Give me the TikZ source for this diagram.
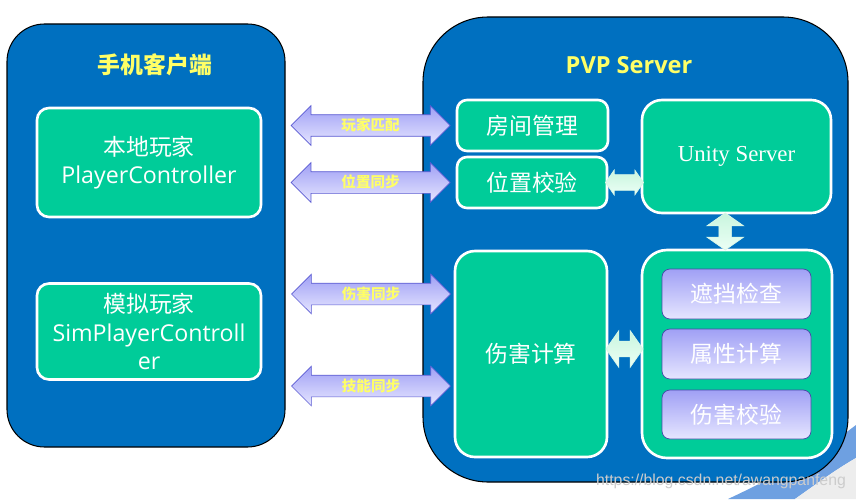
\documentclass[tikz,border=0pt]{standalone}
\usepackage{fontspec}
\setmainfont{Open Sans}
\newfontfamily\cjk{Noto Sans CJK SC}
\newfontfamily\serverfont{Liberation Serif}
\newfontfamily\markfont{Liberation Sans}
\usetikzlibrary{shapes.arrows,shadings,calc}
\definecolor{panelblue}{RGB}{0,112,192}
\definecolor{boxgreen}{RGB}{0,204,153}
\definecolor{titleyellow}{RGB}{255,255,102}
\definecolor{arrowedge}{RGB}{90,90,210}
\definecolor{arrowtop}{RGB}{160,160,245}
\definecolor{arrowbot}{RGB}{230,230,255}
\definecolor{minttop}{RGB}{200,245,222}
\definecolor{mintbot}{RGB}{236,255,245}
\definecolor{swoosh}{RGB}{110,160,225}
\tikzset{
  panel/.style={draw=black, fill=panelblue, line width=0.6pt},
  paneltitle/.style={text=titleyellow, font=\cjk\bfseries\fontsize{13}{16}\selectfont},
  greenbox/.style={draw=white, fill=boxgreen, line width=1.5pt, rounded corners=0.24cm,
    text=white, align=center, font=\cjk\fontsize{13}{16}\selectfont},
  violetbox/.style={draw=arrowedge!80!black, top color=arrowtop, bottom color=arrowbot,
    rounded corners=0.16cm, minimum width=2.98cm, minimum height=1cm,
    text=white, font=\cjk\fontsize{13}{16}\selectfont},
  bluearrow/.style={double arrow, draw=arrowedge, top color=arrowtop, bottom color=arrowbot,
    double arrow tip angle=90, double arrow head extend=0.18cm,
    minimum height=3.18cm, text height=0.26cm, text depth=0.05cm, inner ysep=0.055cm, inner xsep=0pt,
    text=titleyellow, font=\cjk\bfseries\fontsize{8.3}{10}\selectfont},
  mintarrow/.style={double arrow, draw=minttop!70!white, top color=minttop, bottom color=mintbot,
    double arrow tip angle=110, inner xsep=0pt, text height=0pt, text depth=0pt}
}

\begin{document}
\begin{tikzpicture}
    \useasboundingbox (0,0) rectangle (17.12,9.98);

    \fill [swoosh] (14.56,0) .. controls (15.80,0.58) and (16.60,1.08) .. (17.12,1.48)
      -- (17.12,0.82) .. controls (16.70,0.58) and (16.30,0.28) .. (15.90,0) -- cycle;
    \fill [black!7] (15.90,0) .. controls (16.30,0.28) and (16.70,0.58) .. (17.12,0.82)
      -- (17.12,0) -- cycle;

    \node [panel, rounded corners=0.75cm, minimum width=5.56cm, minimum height=8.46cm] (clientPanel) at (2.92,5.27) {};
    \node [panel, rounded corners=1.3cm, minimum width=8.50cm, minimum height=9.30cm] (serverPanel) at (12.71,4.99) {};

    \node [paneltitle] (clientTitle) at (3.10,8.68) {手机客户端};
    \node [paneltitle, font=\bfseries\fontsize{13.4}{16}\selectfont] (serverTitle) at (12.58,8.68) {PVP Server};

    \node [greenbox, minimum width=4.48cm, minimum height=2.18cm] (localPlayer) at (2.98,6.73)
      {本地玩家\\\normalfont\fontsize{13.2}{16}\selectfont PlayerController};
    \node [greenbox, minimum width=4.48cm, minimum height=1.92cm] (simPlayer) at (2.98,3.35)
      {模拟玩家\\\normalfont\fontsize{13.2}{15}\selectfont SimPlayerControll\\\normalfont\fontsize{13.2}{15}\selectfont er};

    \node [greenbox, rounded corners=0.2cm, minimum width=3.02cm, minimum height=1.02cm] (room) at (10.65,7.47) {房间管理};
    \node [greenbox, rounded corners=0.2cm, minimum width=3.00cm, minimum height=1.02cm] (posCheck) at (10.64,6.33) {位置校验};
    \node [greenbox, rounded corners=0.4cm, minimum width=3.78cm, minimum height=2.26cm,
      font=\serverfont\fontsize{13}{16}\selectfont] (unity) at (14.73,6.85) {Unity Server};
    \node [greenbox, rounded corners=0.4cm, minimum width=3.04cm, minimum height=4.12cm] (damage) at (10.62,2.90) {伤害计算};
    \node [greenbox, rounded corners=0.5cm, minimum width=3.80cm, minimum height=4.16cm] (checks) at (14.74,2.90) {};

    \node [violetbox] (occlusion) at (14.73,4.10) {遮挡检查};
    \node [violetbox] (attrCalc) at (14.73,2.90) {属性计算};
    \node [violetbox, minimum height=0.98cm] (dmgVerify) at (14.73,1.69) {伤害校验};

    \node [bluearrow] (matchArrow) at ($(clientPanel.east |- room.west)!.5!(room.west)$) {玩家匹配};
    \node [bluearrow] (posArrow) at ($(clientPanel.east |- posCheck.west)!.5!(posCheck.west)$) {位置同步};
    \node [bluearrow] (dmgArrow) at (7.42,4.10) {伤害同步};
    \node [bluearrow] (skillArrow) at (7.42,2.26) {技能同步};

    \node [mintarrow, inner ysep=0.15cm, double arrow head extend=0.09cm, minimum height=0.76cm]
      (posLink) at ($(posCheck.east)!.5!(unity.west |- posCheck.east)$) {};
    \node [mintarrow, shape border rotate=90, inner xsep=0.12cm, inner ysep=0pt, double arrow head extend=0.24cm, minimum height=0.74cm]
      (unityLink) at ($(unity.south)!.5!(checks.north) + (-0.23,0)$) {};
    \node [mintarrow, inner ysep=0.15cm, double arrow head extend=0.21cm, minimum height=0.74cm]
      (damageLink) at ($(damage.east)!.5!(checks.west) + (0,0.1)$) {};

    \node [text=black!20, font=\markfont\fontsize{9}{10}\selectfont] (mark) at (14.42,0.36) {https://blog.csdn.net/awangpanfeng};
\end{tikzpicture}
\end{document}
